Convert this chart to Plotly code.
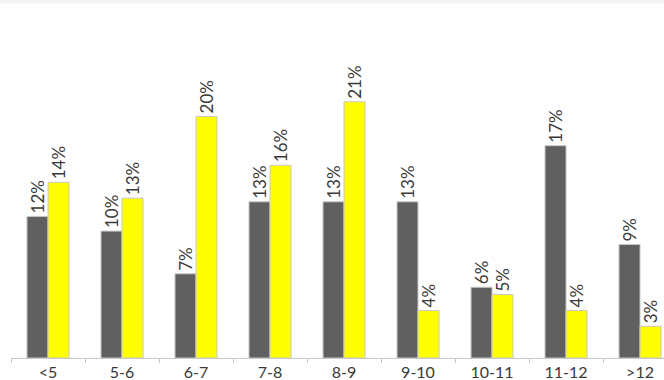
import plotly.graph_objects as go

categories = ["<5", "5-6", "6-7", "7-8", "8-9", "9-10", "10-11", "11-12", ">12"]
series_a = [11.6, 10.4, 6.9, 12.8, 12.8, 12.8, 5.8, 17.4, 9.3]
series_b = [14.4, 13.1, 19.8, 15.8, 21.0, 3.9, 5.2, 3.9, 2.6]

FONT = "Lato"
TEXTC = "#3a3a3a"

fig = go.Figure()
for vals, color in [(series_a, "#606060"), (series_b, "#ffff00")]:
    fig.add_trace(go.Bar(
        x=categories, y=vals,
        marker=dict(color=color, line=dict(color="#c8c8c8", width=1)),
        text=[f"{v:.0f}%" for v in vals], textposition="outside", textangle=-90,
        textfont=dict(family=FONT, size=17, color=TEXTC),
        cliponaxis=False, showlegend=False,
    ))

fig.update_layout(
    width=664, height=380,
    margin=dict(l=11, r=0, t=20, b=22, autoexpand=False),
    paper_bgcolor="white", plot_bgcolor="white",
    barmode="group", bargap=0.432, bargroupgap=0,
    uniformtext=dict(minsize=17, mode="show"),
    xaxis=dict(
        type="category", categoryorder="array", categoryarray=categories,
        range=[-0.5, 8.324], showgrid=False, showline=True, linecolor="#c8c8c8",
        ticks="outside", tickson="boundaries", ticklen=4, tickcolor="#c8c8c8",
        automargin=False,
        tickfont=dict(family=FONT, size=16, color=TEXTC),
    ),
    yaxis=dict(range=[0, 27.7], visible=False, showgrid=False),
    shapes=[dict(type="rect", xref="paper", yref="paper",
                 x0=-0.05, x1=1.05, y0=1 + 16.5 / 338, y1=1 + 21 / 338,
                 fillcolor="#f4f4f4", line=dict(width=0), layer="below")],
)

fig.write_html("out.html", config={"displayModeBar": False},
               post_script="document.body.style.margin='0';")
